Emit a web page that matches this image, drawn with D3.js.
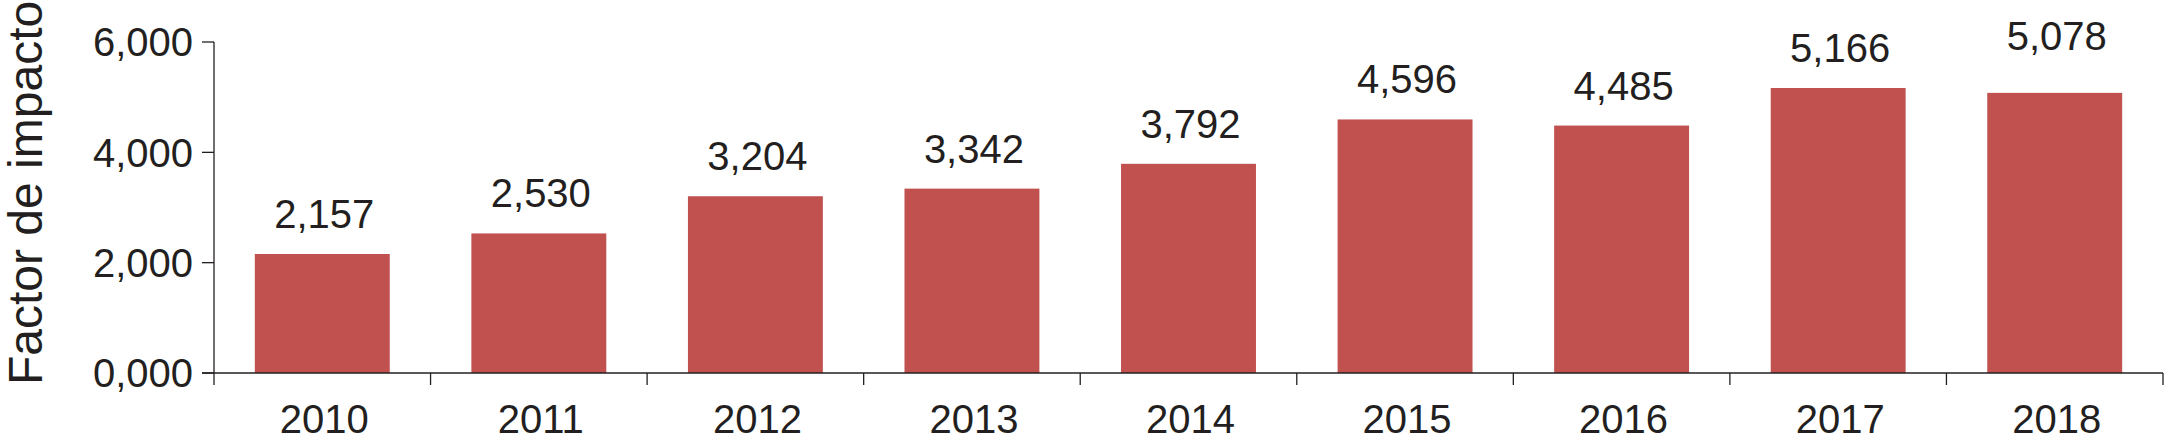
<!DOCTYPE html>
<html>
<head>
<meta charset="utf-8">
<script src="https://cdn.jsdelivr.net/npm/d3@7"></script>
<style>
  html, body { margin: 0; padding: 0; background: #fff; }
  svg { display: block; }
  text { font-family: "Liberation Sans", Arial, Helvetica, sans-serif; fill: #231f20; }
</style>
</head>
<body>
<svg id="chart" width="2165" height="443"></svg>
<script>
const years = ["2010", "2011", "2012", "2013", "2014", "2015", "2016", "2017", "2018"];
const impactFactor = [2.157, 2.530, 3.204, 3.342, 3.792, 4.596, 4.485, 5.166, 5.078];
const yTicks = [0, 2, 4, 6];
const yTitle = "Factor de impacto";

(function () {
const svg = d3.select("#chart");
const mLeft = 214, mRight = 2163, mTop = 42, mBottom = 373;

const x = d3.scaleBand().domain(years).range([mLeft, mRight])
  .paddingInner(0.377).paddingOuter(0.1885);
const y = d3.scaleLinear().domain([0, 6]).range([mBottom, mTop]);
const fmt = v => d3.format(".3f")(v).replace(".", ",");
const stroke = "#231f20";

// bars
svg.selectAll("rect.bar").data(years).join("rect")
  .attr("class", "bar")
  .attr("x", d => x(d))
  .attr("width", x.bandwidth())
  .attr("y", (d, i) => y(impactFactor[i]))
  .attr("height", (d, i) => y(0) - y(impactFactor[i]))
  .attr("fill", "#c0514f");

// value labels
const labelNudge = { "2018": -17 };
svg.selectAll("text.val").data(years).join("text")
  .attr("class", "val")
  .attr("x", d => x(d) + x.bandwidth() / 2 + 2)
  .attr("y", (d, i) => y(impactFactor[i]) - 26 + (labelNudge[d] || 0))
  .attr("text-anchor", "middle")
  .attr("font-size", 40)
  .text((d, i) => fmt(impactFactor[i]));

// y axis
const yAxis = svg.append("g");
yAxis.append("line").attr("x1", mLeft).attr("x2", mLeft)
  .attr("y1", y(6)).attr("y2", mBottom + 12)
  .attr("stroke", stroke).attr("stroke-width", 1.3);
yAxis.selectAll("line.tick").data(yTicks).join("line")
  .attr("class", "tick")
  .attr("x1", mLeft - 12).attr("x2", mLeft)
  .attr("y1", d => y(d)).attr("y2", d => y(d))
  .attr("stroke", stroke).attr("stroke-width", 1.3);
yAxis.selectAll("text").data(yTicks).join("text")
  .attr("x", 193).attr("y", d => y(d))
  .attr("dy", "0.36em")
  .attr("text-anchor", "end")
  .attr("font-size", 40)
  .text(d => fmt(d));

// x axis
const step = x.step();
const boundaries = years.map(d => x(d) + x.bandwidth() + step * x.paddingInner() / 2);
const xAxis = svg.append("g");
xAxis.append("line").attr("x1", mLeft - 12).attr("x2", mRight)
  .attr("y1", mBottom).attr("y2", mBottom)
  .attr("stroke", stroke).attr("stroke-width", 1.3);
xAxis.selectAll("line.tick").data(boundaries).join("line")
  .attr("class", "tick")
  .attr("x1", d => d).attr("x2", d => d)
  .attr("y1", mBottom).attr("y2", mBottom + 12)
  .attr("stroke", stroke).attr("stroke-width", 1.3);
xAxis.selectAll("text").data(years).join("text")
  .attr("x", d => x(d) + x.bandwidth() / 2 + 2)
  .attr("y", 433)
  .attr("text-anchor", "middle")
  .attr("font-size", 40)
  .text(d => d);

// y title
svg.append("text")
  .attr("transform", "translate(42,385) rotate(-90)")
  .attr("text-anchor", "start")
  .attr("font-size", 48)
  .text(yTitle);
})();
</script>
</body>
</html>
